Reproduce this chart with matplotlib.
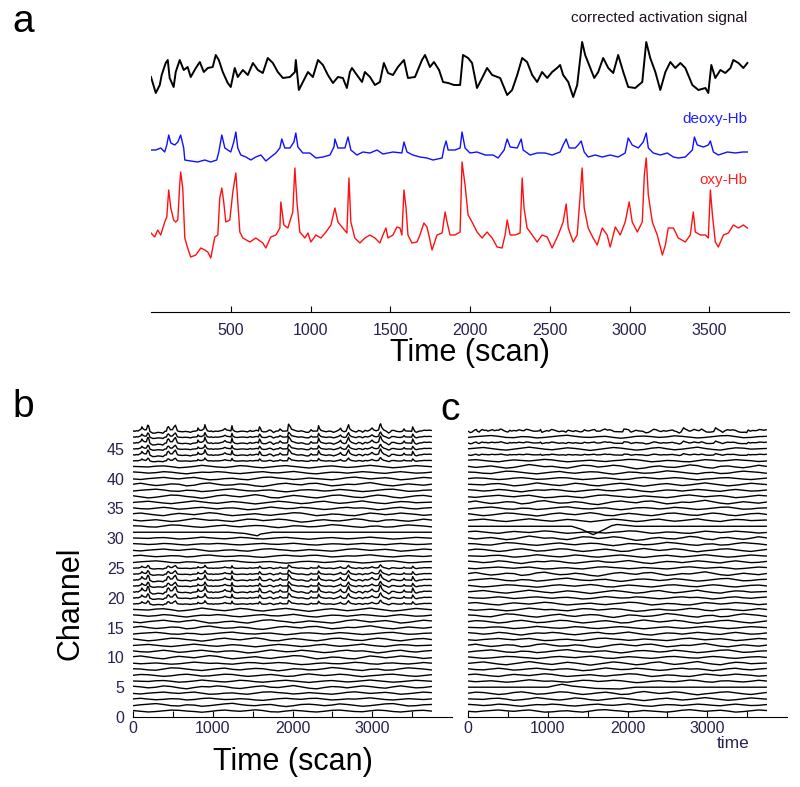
import numpy as np
import matplotlib.pyplot as plt

plt.rcParams['font.family'] = ['Liberation Sans', 'DejaVu Sans']

# ---- panel a: traces (time in scans, amplitude in a.u.)
act_t = [0, 11, 30, 55, 67, 92, 105, 117, 142, 155, 180, 205, 230, 249, 281, 306, 331, 356, 387, 406,
         425, 450, 481, 500, 525, 544, 576, 607, 639, 670, 701, 732, 764, 795, 827, 871, 902, 908, 927, 952,
         984, 1015, 1047, 1078, 1109, 1141, 1172, 1203, 1228, 1247, 1260, 1291, 1323, 1341, 1373, 1404, 1435, 1460, 1486, 1517,
         1548, 1586, 1611, 1655, 1699, 1718, 1749, 1774, 1806, 1831, 1863, 1900, 1938, 1956, 1988, 2013, 2044, 2076, 2107, 2139,
         2189, 2233, 2264, 2296, 2327, 2358, 2390, 2421, 2452, 2484, 2515, 2546, 2565, 2584, 2616, 2647, 2672, 2703, 2722, 2754,
         2779, 2804, 2835, 2867, 2898, 2929, 2961, 2992, 3036, 3080, 3105, 3130, 3162, 3193, 3225, 3256, 3287, 3319, 3350, 3394,
         3432, 3476, 3494, 3513, 3538, 3570, 3601, 3633, 3651, 3683, 3714, 3739]
act_v = [-0.2, -0.8, -1.8, -1.0, 0.0, 1.2, 1.5, -0.3, -1.2, 0.3, 1.5, 0.5, 0.8, -0.2, 0.7, 1.3, 0.3, 0.7, 0.8, 2.0,
         1.5, 0.3, -0.8, -1.2, 0.7, -0.2, 0.5, 0.0, 1.2, 0.5, 0.2, 1.7, 1.2, 0.3, -0.3, -0.2, 0.3, 1.5, -1.5, -0.7,
         0.3, -0.2, 1.5, 1.0, 0.0, -0.8, -0.2, -0.3, -1.3, 0.3, 0.7, 0.0, -0.7, 0.3, -0.2, -1.0, -0.7, 1.2, 0.2, 0.0,
         0.8, 1.5, -0.3, -0.2, 1.5, 2.0, 0.8, 1.3, 0.5, -0.7, -0.8, -1.0, -1.0, 2.0, 1.7, 1.2, -1.3, -0.3, 0.7, 0.0,
         -0.3, -2.0, -1.5, 0.0, 1.7, 1.3, 0.0, -0.7, 0.3, -0.3, 0.3, 0.7, 1.0, 0.0, -0.7, -2.2, -1.0, 3.3, 2.0, 0.7,
         -0.3, 0.3, 1.7, 0.7, 0.2, 2.0, 0.3, -1.2, -1.3, -0.7, 3.3, 1.7, 0.3, -1.5, 0.3, 1.3, 0.7, 1.2, 0.7, -1.0,
         -1.5, -1.3, -1.8, 1.0, -0.3, 0.5, 0.2, 0.7, 1.5, 1.2, 0.7, 1.2]

deoxy_t = [0, 30, 61, 86, 99, 111, 124, 149, 168, 186, 205, 212, 249, 293, 337, 375, 412, 425, 444, 463,
           500, 519, 532, 544, 563, 595, 626, 657, 689, 720, 751, 783, 808, 820, 839, 871, 896, 908, 921, 952,
           996, 1034, 1078, 1122, 1147, 1153, 1172, 1216, 1235, 1253, 1291, 1329, 1373, 1417, 1454, 1517, 1573, 1586, 1605, 1642,
           1686, 1730, 1768, 1825, 1837, 1850, 1863, 1906, 1938, 1950, 1969, 2000, 2044, 2095, 2145, 2176, 2214, 2233, 2252, 2296,
           2321, 2333, 2377, 2421, 2471, 2515, 2565, 2584, 2603, 2622, 2660, 2678, 2697, 2716, 2741, 2785, 2829, 2879, 2929, 2973,
           2992, 3017, 3055, 3086, 3105, 3118, 3149, 3193, 3237, 3275, 3306, 3350, 3394, 3407, 3425, 3463, 3494, 3507, 3526, 3557,
           3614, 3664, 3708, 3739]
deoxy_v = [0.2, 0.2, 0.4, 0.0, 0.7, 1.7, 0.9, 0.7, 1.0, 1.7, 0.4, -0.8, -0.9, -1.0, -0.8, -1.0, -0.8, 0.0, 1.7, 0.4,
           0.0, 1.0, 2.0, 0.4, -0.3, -0.5, -0.8, -0.5, -0.3, -0.9, -0.5, -0.1, 0.4, 1.3, 0.4, 0.4, 1.0, 1.9, 0.5, -0.1,
           -0.1, -0.6, -0.5, -0.3, 0.5, 1.3, 0.4, 0.4, 1.5, 0.2, -0.3, 0.0, -0.1, 0.2, -0.2, 0.0, -0.1, 1.0, 0.0, -0.3,
           -0.5, -0.6, -0.8, -0.6, 0.4, 1.1, 0.2, 0.2, 0.4, 2.0, 0.4, -0.1, 0.0, -0.3, -0.3, -0.6, 0.2, 1.3, 0.5, 0.4,
           1.3, 0.2, -0.3, -0.1, -0.1, -0.3, 0.0, 0.7, 1.3, 0.4, 0.4, 0.7, 1.1, 0.0, -0.5, -0.3, -0.5, -0.3, -0.5, -0.1,
           1.4, 0.7, 0.4, 1.0, 1.9, 0.4, -0.1, -0.3, -0.1, -0.5, -0.6, -0.5, 0.2, 1.5, 0.7, 0.5, 0.7, 1.1, 0.0, -0.3,
           0.0, -0.1, 0.0, 0.0]

oxy_t = [0, 23, 42, 61, 86, 99, 111, 124, 142, 155, 168, 180, 186, 199, 212, 230, 249, 281, 312, 337,
         356, 375, 400, 419, 431, 444, 456, 469, 494, 513, 532, 544, 557, 576, 620, 657, 701, 720, 751, 783,
         808, 814, 833, 858, 889, 902, 915, 933, 965, 984, 1002, 1034, 1065, 1097, 1128, 1153, 1172, 1203, 1228, 1241,
         1253, 1278, 1310, 1341, 1373, 1404, 1435, 1454, 1473, 1486, 1517, 1542, 1561, 1573, 1586, 1599, 1611, 1636, 1668, 1686,
         1711, 1730, 1749, 1762, 1793, 1825, 1844, 1856, 1875, 1906, 1938, 1950, 1969, 1988, 2013, 2044, 2076, 2107, 2139, 2170,
         2201, 2220, 2233, 2252, 2283, 2314, 2327, 2339, 2358, 2390, 2421, 2452, 2484, 2515, 2553, 2584, 2603, 2616, 2647, 2672,
         2691, 2703, 2716, 2741, 2772, 2798, 2829, 2860, 2879, 2911, 2942, 2973, 2998, 3017, 3049, 3080, 3093, 3105, 3118, 3143,
         3174, 3206, 3225, 3243, 3275, 3306, 3350, 3381, 3400, 3413, 3444, 3476, 3494, 3507, 3520, 3538, 3557, 3589, 3620, 3651,
         3683, 3714, 3739]
oxy_v = [0.0, -0.4, 0.3, -0.2, 1.1, 1.6, 4.3, 2.5, 1.3, 1.1, 1.3, 4.8, 6.1, 4.5, -0.5, -1.5, -2.4, -2.2, -1.5, -1.7,
         -1.9, -2.5, -0.4, -0.2, 3.5, 4.5, 3.1, 1.1, 1.3, 4.1, 6.0, 3.1, 0.1, -0.5, -0.9, -0.5, -1.0, -1.5, -0.4, -0.2,
         0.5, 3.1, 0.8, 0.5, 2.1, 6.5, 3.1, 0.1, -0.5, 0.0, -0.9, -0.2, -0.5, 0.1, 0.8, 2.5, 1.1, 0.5, 0.0, 5.5,
         1.1, -0.5, -1.0, -0.5, -0.2, -0.5, -1.0, -0.2, 0.5, -0.5, -0.2, 0.6, 0.5, -0.2, 4.3, 2.5, -0.2, -1.0, -0.9, -0.2,
         1.0, 0.6, -0.7, -1.7, -0.2, 0.0, 2.1, 1.1, -0.2, -0.2, 0.1, 7.1, 4.8, 1.8, 1.1, 0.1, -0.5, 0.1, -0.5, -1.4,
         -1.5, -0.2, 1.3, -0.2, -0.2, 0.0, 5.5, 2.5, 0.5, -0.2, -0.9, -0.2, -0.4, -1.5, -0.2, 1.1, 2.9, 0.5, -0.9, -0.2,
         3.8, 6.5, 2.5, 0.5, -0.5, -1.2, 0.5, -0.2, -1.4, 0.6, -0.2, 1.1, 3.1, 1.1, 0.1, 1.1, 5.8, 7.5, 3.8, 1.1,
         -0.2, -2.2, -1.2, 0.5, 0.5, -0.5, -0.9, -0.2, 2.1, 0.1, -0.2, -0.2, -0.5, 4.3, 1.8, -0.9, -1.4, -0.2, 0.0, 0.8,
         0.5, 0.8, 0.5]

# ---- panels b, c: slow channel fluctuations (a.u.)
wig1 = [0.0, 0.1, 0.2, 0.05, -0.1, -0.2, -0.05, 0.1, 0.25, 0.1, -0.05, -0.15, 0.0, 0.15, 0.05, -0.1, -0.25, -0.1, 0.05, 0.2,
        0.1, -0.05, -0.2, -0.1, 0.1, 0.2, 0.0, -0.15, -0.05, 0.1, 0.25, 0.05, -0.1, -0.2, 0.0, 0.15, 0.1, -0.05, 0.0, 0.05]
wig2 = [0.1, -0.05, -0.2, -0.1, 0.05, 0.2, 0.15, 0.0, -0.1, -0.25, -0.1, 0.1, 0.2, 0.05, -0.05, 0.1, 0.25, 0.1, -0.15, -0.2,
        0.0, 0.15, 0.05, -0.1, -0.2, -0.05, 0.15, 0.2, 0.05, -0.1, -0.15, 0.05, 0.2, 0.1, -0.1, -0.2, -0.05, 0.1, 0.15, 0.0]
wig3 = [-0.1, 0.05, 0.15, 0.25, 0.1, -0.1, -0.15, 0.05, 0.0, -0.2, -0.1, 0.05, 0.2, 0.3, 0.1, -0.05, -0.1, 0.05, 0.1, -0.1,
        -0.25, -0.1, 0.1, 0.15, 0.05, -0.1, 0.0, 0.2, 0.1, -0.05, -0.2, -0.1, 0.05, 0.2, 0.25, 0.05, -0.15, -0.1, 0.05, 0.1]
wig4 = [0.05, 0.2, 0.0, -0.15, -0.05, 0.1, 0.05, -0.2, -0.1, 0.15, 0.25, 0.05, -0.1, -0.05, 0.1, 0.0, -0.2, -0.3, -0.1, 0.1,
        0.2, 0.05, -0.05, 0.15, 0.2, 0.0, -0.2, -0.1, 0.05, 0.0, 0.15, 0.3, 0.1, -0.1, -0.2, -0.05, 0.1, 0.0, -0.1, 0.05]
wig5 = [-0.05, -0.15, 0.0, 0.1, 0.2, 0.05, -0.05, 0.1, 0.2, 0.0, -0.2, -0.15, 0.0, 0.05, -0.1, -0.2, 0.0, 0.2, 0.25, 0.1,
        0.0, -0.15, -0.05, 0.1, 0.0, -0.1, -0.2, -0.05, 0.15, 0.25, 0.1, -0.05, 0.05, 0.15, 0.0, -0.2, -0.1, 0.05, 0.2, 0.1]
wig6 = [0.15, 0.05, -0.1, 0.0, 0.2, 0.1, -0.1, -0.25, -0.05, 0.1, 0.05, 0.2, 0.1, -0.1, -0.2, -0.05, 0.1, 0.2, 0.0, -0.05,
        0.1, 0.25, 0.05, -0.15, -0.25, -0.05, 0.1, 0.05, -0.1, 0.05, 0.2, 0.1, -0.05, -0.15, 0.05, 0.2, 0.05, -0.1, -0.05, 0.1]
wiggles = [wig1, wig2, wig3, wig4, wig5, wig6]

channels = list(range(1, 49))
b_amp = [0.8, 1.0, 0.7, 0.9, 1.1, 0.8, 0.9, 1.0, 0.7, 1.2, 1.0, 0.9, 1.1, 0.8, 1.0, 1.2, 0.9, 1.1, 1.0, 0.9,
         1.0, 0.8, 1.1, 1.0, 0.9, 0.8, 0.7, 0.9, 0.6, 0.7, 0.8, 0.9, 1.0, 1.1, 0.9, 1.0, 1.2, 0.9, 1.1, 1.0,
         0.8, 0.9, 0.8, 0.7, 0.8, 0.7, 0.8, 0.7]
# channels picking up the oxy-Hb spikes in panel b
b_spike = [0, 0, 0, 0, 0, 0, 0, 0, 0, 0, 0, 0, 0, 0, 0, 0, 0, 0, 0.08, 0.11, 0.15, 0.1, 0.13, 0.09,
           0.07, 0, 0, 0, 0, 0, 0, 0, 0, 0, 0, 0, 0, 0, 0, 0, 0, 0, 0.07, 0.13, 0.1, 0.15, 0.11, 0.16]
c_amp = [0.9, 0.8, 1.0, 1.1, 0.9, 0.8, 1.0, 0.9, 1.2, 0.8, 1.0, 1.1, 0.9, 1.0, 0.8, 1.1, 1.2, 0.9, 1.0, 0.8,
         1.1, 0.9, 1.0, 1.2, 0.8, 1.0, 0.9, 1.1, 1.0, 1.2, 0.9, 0.8, 1.0, 1.1, 0.9, 1.2, 1.0, 0.9, 1.1, 0.8,
         1.0, 1.2, 0.9, 1.0, 1.1, 1.0, 0.9, 1.0]
# noisy top channels in panel c follow the corrected signal
c_noisy = [0, 0, 0, 0, 0, 0, 0, 0, 0, 0, 0, 0, 0, 0, 0, 0, 0, 0, 0, 0, 0, 0, 0, 0,
           0, 0, 0, 0, 0, 0, 0, 0, 0, 0, 0, 0, 0, 0, 0, 0, 0, 0, 0, 0.06, 0, 0.09, 0, 0.16]

# channels with single slow events
b31_t = [0, 1200, 1400, 1560, 1600, 1750, 3740]
b31_v = [0.0, 0.0, -0.2, -0.6, -0.3, 0.0, 0.0]
c32_t = [0, 1300, 1420, 1570, 1700, 1800, 1870, 1950, 2100, 3740]
c32_v = [0.0, 0.0, -0.5, -1.4, -0.6, 0.1, 0.3, 0.2, 0.0, 0.0]
c5_t = [0, 1000, 1100, 1180, 1300, 1600, 1900, 2100, 3740]
c5_v = [0.0, 0.0, 0.3, 0.5, 0.2, -0.2, -0.3, 0.0, 0.0]

tick_col = '#2a2050'

fig = plt.figure(figsize=(8, 7.87), dpi=100)

# ---- a
ax = fig.add_axes([151 / 800, 1 - 312 / 787, 638 / 800, 292 / 787])
ax.plot(act_t, np.array(act_v) + 23.7, color='black', lw=1.4)
ax.plot(deoxy_t, np.array(deoxy_v) + 16.0, color='#1010ff', lw=1.0)
ax.plot(oxy_t, np.array(oxy_v) + 7.9, color='#ff1010', lw=1.0)
ax.set_xlim(0, 4000)
ax.set_ylim(0, 29.2)
for s in ['top', 'right', 'left']:
    ax.spines[s].set_visible(False)
ax.set_yticks([])
ax.set_xticks([500, 1000, 1500, 2000, 2500, 3000, 3500])
ax.tick_params(axis='x', direction='in', length=4, labelsize=11.5, labelcolor=tick_col, pad=8)
ax.set_xlabel('Time (scan)', fontsize=22, labelpad=0)
ax.text(3740, 29.4, 'corrected activation signal', ha='right', va='center', fontsize=11, color='#201020', clip_on=False)
ax.text(3740, 19.3, 'deoxy-Hb', ha='right', va='center', fontsize=11, color='#2020ff')
ax.text(3740, 13.2, 'oxy-Hb', ha='right', va='center', fontsize=11, color='#ff2020')


def channel_trace(ch, amp):
    w = wiggles[ch % 6]
    if (ch // 6) % 2:
        w = w[::-1]
    t = np.linspace(0, 3740, len(w))
    return t, ch + amp * np.array(w)


def style_bottom(a):
    a.set_xlim(0, 4000)
    a.set_ylim(0, 50)
    for s in ['top', 'right', 'left']:
        a.spines[s].set_visible(False)
    a.set_xticks([0, 500, 1000, 1500, 2000, 2500, 3000, 3500])
    a.set_xticklabels(['0', '', '1000', '', '2000', '', '3000', ''])
    a.tick_params(axis='x', direction='in', length=4, labelsize=11.5, labelcolor=tick_col, pad=3)


# ---- b
axb = fig.add_axes([133 / 800, 1 - 717 / 787, 319 / 800, 298 / 787])
for i, ch in enumerate(channels):
    if ch == 31:
        t, y = b31_t, ch + np.array(b31_v)
    elif b_spike[i] != 0:
        t, y = oxy_t, ch + b_spike[i] * np.array(oxy_v)
    else:
        t, y = channel_trace(ch, b_amp[i])
    axb.plot(t, y, color='black', lw=1.0)
style_bottom(axb)
axb.set_yticks([0, 5, 10, 15, 20, 25, 30, 35, 40, 45])
axb.tick_params(axis='y', length=0, labelsize=11.5, labelcolor=tick_col, pad=6)
axb.set_xlabel('Time (scan)', fontsize=22, labelpad=8)
axb.set_ylabel('Channel', fontsize=22)
axb.yaxis.set_label_coords(-0.15, 0.38)

# ---- c
axc = fig.add_axes([468 / 800, 1 - 717 / 787, 319 / 800, 298 / 787])
for i, ch in enumerate(channels):
    if ch == 32:
        t, y = c32_t, ch + np.array(c32_v)
    elif ch == 5:
        t, y = c5_t, ch + np.array(c5_v)
    elif c_noisy[i] != 0:
        t, y = act_t, ch + c_noisy[i] * np.array(act_v)
    else:
        t, y = channel_trace(ch + 3, c_amp[i])
        y = y - 3
    axc.plot(t, y, color='black', lw=1.0)
style_bottom(axc)
axc.set_yticks([])
axc.text(3120, -4.5, 'time', fontsize=12.5, color=tick_col, va='center', clip_on=False)

fig.text(12 / 800, 1 - 22 / 787, 'a', fontsize=28, va='center')
fig.text(12 / 800, 1 - 407 / 787, 'b', fontsize=28, va='center')
fig.text(440 / 800, 1 - 410 / 787, 'c', fontsize=28, va='center')

fig.savefig('out.png', dpi=100)
